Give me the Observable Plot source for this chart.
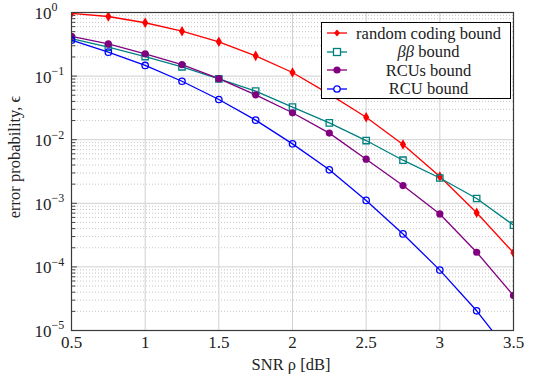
<!DOCTYPE html>
<html>
<head>
<meta charset="utf-8">
<script src="https://cdn.jsdelivr.net/npm/d3@7"></script>
<script src="https://cdn.jsdelivr.net/npm/@observablehq/plot@0.6"></script>
<style>
  html, body { margin: 0; padding: 0; background: #fff; }
  #wrap { position: relative; width: 535px; height: 378px; font-family: 'Liberation Serif', serif; }
  #wrap svg text { font-family: 'Liberation Serif', serif; }
  #legend { position: absolute; left: 321px; top: 22px; width: 188px; height: 75px; border: 1px solid #000; background: #fff; }
  .row { position: absolute; left: 0; width: 188px; height: 18px; display: flex; align-items: center; }
  .row svg { margin-left: 5px; flex: none; }
  .row span { flex: 1; text-align: center; font-family: 'Liberation Serif', serif; font-size: 16.5px; color: #222; line-height: 17px; white-space: nowrap; }
</style>
</head>
<body>
<div id="wrap"></div>
<script>
// ---- data ----
const snr = [0.5, 0.75, 1.0, 1.25, 1.5, 1.75, 2.0, 2.25, 2.5, 2.75, 3.0, 3.25, 3.5];
const randomCoding = [0.97, 0.865, 0.69, 0.508, 0.346, 0.208, 0.114, 0.052, 0.0226, 0.0084, 0.00264, 7.1e-4, 1.67e-4];
const betaBeta = [0.39, 0.285, 0.203, 0.14, 0.0906, 0.058, 0.0325, 0.0184, 0.0097, 0.00476, 0.0025, 0.00119, 4.53e-4];
const rcus = [0.42, 0.32, 0.224, 0.152, 0.091, 0.0508, 0.0265, 0.0127, 0.00494, 0.0019, 6.8e-4, 1.7e-4, 3.55e-5];
const rcu = [0.367, 0.238, 0.147, 0.083, 0.0429, 0.0203, 0.0086, 0.00336, 0.00111, 3.3e-4, 8.9e-5, 2.04e-5, 3.7e-6];

const seriesNames = ["random coding bound", "ββ bound", "RCUs bound", "RCU bound"];
const seriesColors = ["#ff0000", "#008080", "#800080", "#0000ff"];

const xTicks = [0.5, 1, 1.5, 2, 2.5, 3, 3.5];
const yMajor = [1, 1e-1, 1e-2, 1e-3, 1e-4, 1e-5];
const yExponents = ["0", "−1", "−2", "−3", "−4", "−5"];
const yMinor = [];
for (let e = -5; e < 0; e++) for (let m = 2; m <= 9; m++) yMinor.push(m * Math.pow(10, e));

// ---- build table ----
const allSeries = [randomCoding, betaBeta, rcus, rcu];
const rows = [];
allSeries.forEach((vals, si) => vals.forEach((v, i) => rows.push({x: snr[i], y: v, s: seriesNames[si]})));
const bySeries = name => rows.filter(r => r.s === name);

const xDom = [0.5, 3.5];
const yDom = [1e-5, 1];
const majorLabels = yMajor.map((v, i) => ({v, e: yExponents[i]}));
const FONT = "'Liberation Serif', serif";

const plot = Plot.plot({
  width: 535,
  height: 378,
  marginLeft: 71,
  marginRight: 22,
  marginTop: 12,
  marginBottom: 48,
  style: {fontFamily: FONT, background: "#fff"},
  x: {domain: xDom},
  y: {type: "log", domain: yDom},
  marks: [
    Plot.ruleY(yMinor, {stroke: "#b8b8b8", strokeDasharray: "1,2", strokeWidth: 0.8}),
    Plot.ruleY(yMajor, {stroke: "#d0d0d0", strokeWidth: 1}),
    Plot.ruleX(xTicks, {stroke: "#d0d0d0", strokeWidth: 1}),
    // inward ticks on left axis
    Plot.ruleY(yMinor, {x1: xDom[0], x2: xDom[0] + 0.03, stroke: "#333", strokeWidth: 0.9}),
    Plot.ruleY(yMajor, {x1: xDom[0], x2: xDom[0] + 0.04, stroke: "#333", strokeWidth: 0.9}),
    Plot.axisX({ticks: xTicks, tickSize: 0, tickPadding: 5, tickFormat: d => String(d), fontSize: 17, label: null, color: "#222"}),
    Plot.axisY({ticks: [], label: null, tickSize: 0}),
    // y tick labels: 10 with superscript exponent
    Plot.text(majorLabels, {x: xDom[0], y: "v", text: () => "10", textAnchor: "end", dx: -20, dy: 1, fontSize: 17, fill: "#222"}),
    Plot.text(majorLabels, {x: xDom[0], y: "v", text: "e", textAnchor: "start", dx: -20, dy: -5, fontSize: 12, fill: "#222"}),
    // series
    ...seriesNames.map((n, i) => Plot.line(bySeries(n), {x: "x", y: "y", stroke: seriesColors[i], strokeWidth: 1.3, clip: true})),
    Plot.dot(bySeries(seriesNames[0]), {x: "x", y: "y", symbol: "diamond", r: 3.2, fill: seriesColors[0], clip: true}),
    Plot.dot(bySeries(seriesNames[1]), {x: "x", y: "y", symbol: "square", r: 3.6, fill: "none", stroke: seriesColors[1], strokeWidth: 1.3, clip: true}),
    Plot.dot(bySeries(seriesNames[2]), {x: "x", y: "y", symbol: "circle", r: 3.6, fill: seriesColors[2], clip: true}),
    Plot.dot(bySeries(seriesNames[3]), {x: "x", y: "y", symbol: "circle", r: 3.2, fill: "none", stroke: seriesColors[3], strokeWidth: 1.3, clip: true}),
    Plot.frame({stroke: "#3a3a3a", strokeWidth: 1.2})
  ]
});

const svg = d3.select(plot);
svg.append("text")
  .attr("x", 291).attr("y", 370)
  .attr("text-anchor", "middle")
  .attr("font-family", FONT)
  .attr("font-size", 16.5).attr("fill", "#222")
  .text("SNR ρ [dB]");
svg.append("text")
  .attr("transform", "translate(20, 157) rotate(-90)")
  .attr("text-anchor", "middle")
  .attr("font-family", FONT)
  .attr("font-size", 16.5).attr("fill", "#222")
  .text("error probability, ϵ");

const wrap = document.getElementById("wrap");
wrap.appendChild(plot);

// legend
const legend = document.createElement("div");
legend.id = "legend";
const markerSvg = i => {
  const c = seriesColors[i];
  let m = "";
  if (i === 0) m = `<path d="M10,1.5 L13,5 L10,8.5 L7,5 Z" fill="${c}"/>`;
  if (i === 1) m = `<rect x="6.5" y="1.5" width="7" height="7" fill="#fff" stroke="${c}" stroke-width="1.3"/>`;
  if (i === 2) m = `<circle cx="10" cy="5" r="3.6" fill="${c}"/>`;
  if (i === 3) m = `<circle cx="10" cy="5" r="3.2" fill="#fff" stroke="${c}" stroke-width="1.3"/>`;
  return `<svg width="20" height="10"><line x1="0" y1="5" x2="20" y2="5" stroke="${c}" stroke-width="1.3"/>${m}</svg>`;
};
const labelsHtml = [
  "random coding bound",
  "<i>ββ</i> bound",
  "RCUs bound",
  "RCU bound"
];
const rowTops = [1, 19.5, 38, 56.5];
labelsHtml.forEach((t, i) => {
  const r = document.createElement("div");
  r.className = "row";
  r.style.top = rowTops[i] + "px";
  r.innerHTML = markerSvg(i) + `<span>${t}</span>`;
  legend.appendChild(r);
});
wrap.appendChild(legend);
</script>
</body>
</html>
